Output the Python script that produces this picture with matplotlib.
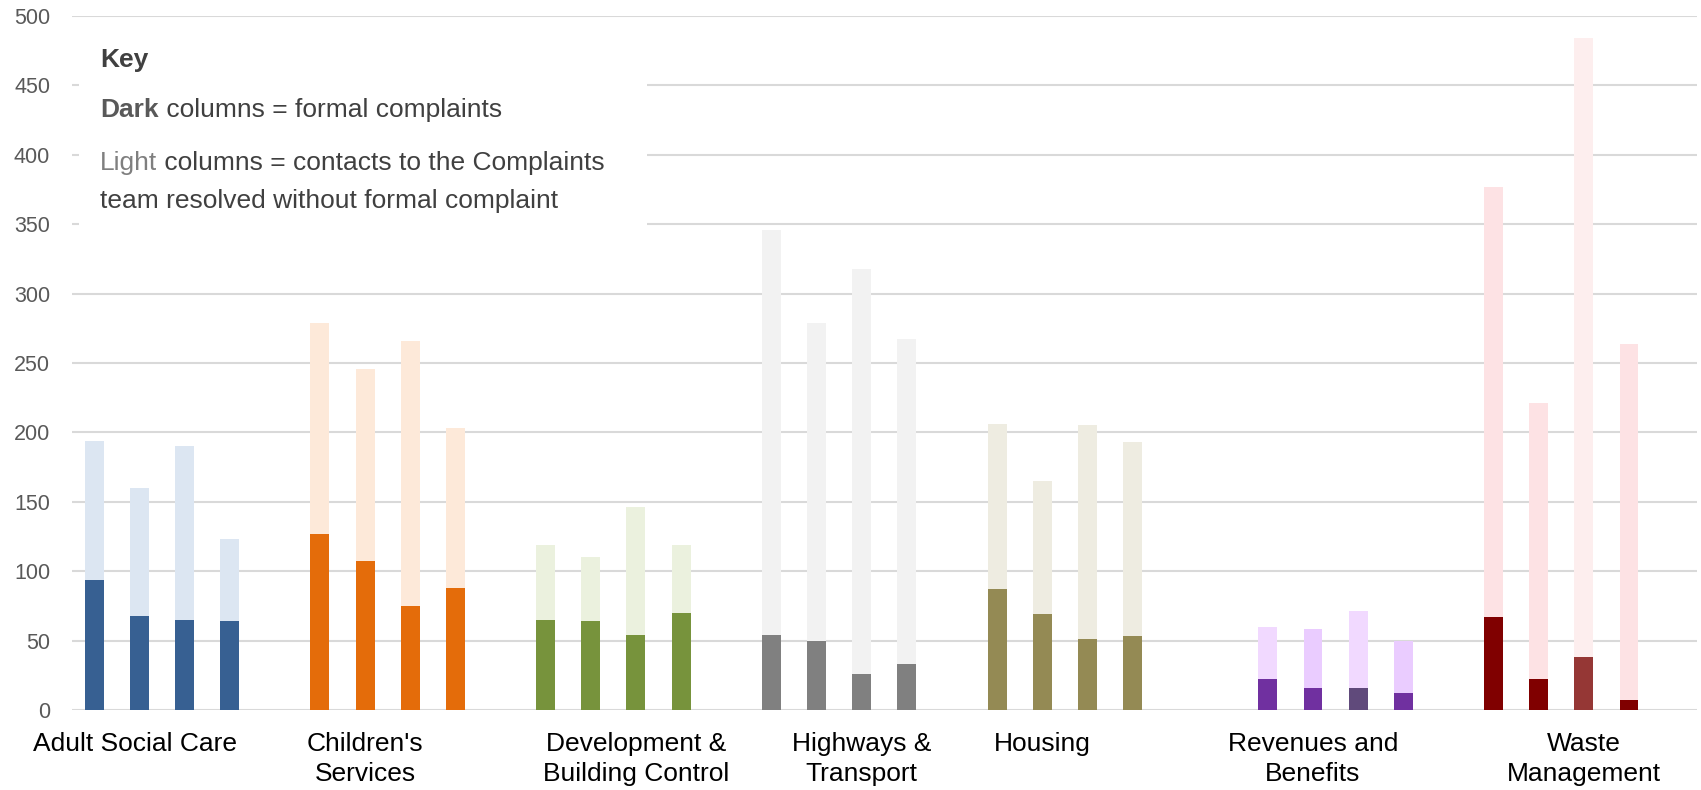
import matplotlib
matplotlib.use("Agg")
import matplotlib.pyplot as plt
from matplotlib.patches import Rectangle

plt.rcParams['font.family'] = ['Liberation Sans', 'DejaVu Sans']

# service areas, 4 columns each
categories = ["Adult Social Care", "Children's\nServices", "Development &\nBuilding Control",
              "Highways &\nTransport", "Housing", "Revenues and\nBenefits", "Waste\nManagement"]

# dark columns = formal complaints
formal = [
    [94, 68, 65, 64],
    [127, 107, 75, 88],
    [65, 64, 54, 70],
    [54, 50, 26, 33],
    [87, 69, 51, 53],
    [22, 16, 16, 12],
    [67, 22, 38, 7],
]
# light part = contacts resolved without a formal complaint
informal = [
    [100, 92, 125, 59],
    [152, 139, 191, 115],
    [54, 46, 92, 49],
    [292, 229, 292, 234],
    [119, 96, 154, 140],
    [38, 42, 55, 38],
    [310, 199, 446, 257],
]

dark_colors = [
    ['#376092'] * 4,
    ['#E46C0A'] * 4,
    ['#77933C'] * 4,
    ['#808080'] * 4,
    ['#948A54'] * 4,
    ['#7030A0', '#7030A0', '#604A7B', '#7030A0'],
    ['#800000', '#800000', '#953735', '#800000'],
]
light_colors = [
    ['#DCE6F2'] * 4,
    ['#FDE9D9'] * 4,
    ['#EBF1DE'] * 4,
    ['#F2F2F2'] * 4,
    ['#EEECE1'] * 4,
    ['#F1D9FF', '#EACCFF', '#F1D9FF', '#EACCFF'],
    ['#FDE2E4', '#FDE2E4', '#FDEEEE', '#FDE2E4'],
]

# slot layout (36 slots on the axis)
group_start = [0, 5, 10, 15, 20, 26, 31]
label_pos = [0.9, 6, 12, 17, 21, 27, 33]

W, H = 1701, 790
fig = plt.figure(figsize=(W / 100, H / 100), dpi=100)
ax = fig.add_axes([71.7 / W, 1 - 710 / H, (1696.7 - 71.7) / W, (710 - 16) / H])

for g in range(len(categories)):
    xs = [group_start[g] + i for i in range(4)]
    ax.bar(xs, formal[g], width=0.42, color=dark_colors[g], zorder=2)
    ax.bar(xs, informal[g], width=0.42, bottom=formal[g], color=light_colors[g], zorder=2)

ax.set_xlim(-0.5, 35.5)
ax.set_ylim(0, 500)
ax.set_yticks(range(0, 501, 50))
ax.set_xticks(label_pos)
ax.set_xticklabels(categories, fontsize=19, color='black', linespacing=1.33)
ax.tick_params(axis='x', length=0, pad=15.5)
ax.tick_params(axis='y', length=0, pad=15.5, labelsize=15.5, labelcolor='#595959')
ax.grid(axis='y', color='#D9D9D9', linewidth=1.5, zorder=0)
ax.set_axisbelow(True)
for s in ax.spines.values():
    s.set_visible(False)

# key box
fig.add_artist(Rectangle((79 / W, 1 - 255 / H), (647 - 79) / W, (255 - 30) / H,
                         transform=fig.transFigure, facecolor='white', edgecolor='none', zorder=1))
tx = 100 / W
ks = 19
fig.text(tx, 1 - 67 / H, "Key", fontsize=ks, fontweight='bold', color='#404040', va='baseline')
t1 = fig.text(tx, 1 - 117 / H, "Dark", fontsize=ks, fontweight='bold', color='#595959', va='baseline')
t2 = fig.text(tx, 1 - 170 / H, "Light", fontsize=ks, color='#7F7F7F', va='baseline')
fig.text(tx, 1 - 208 / H, "team resolved without formal complaint", fontsize=ks,
         color='#404040', va='baseline')

# put the plain words right after the bold / light ones
fig.canvas.draw()
b1 = t1.get_window_extent()
b2 = t2.get_window_extent()
fig.text(b1.x1 / W, 1 - 117 / H, " columns = formal complaints", fontsize=ks,
         color='#404040', va='baseline')
fig.text(b2.x1 / W, 1 - 170 / H, " columns = contacts to the Complaints", fontsize=ks,
         color='#404040', va='baseline')

fig.savefig("out.png", dpi=100)
